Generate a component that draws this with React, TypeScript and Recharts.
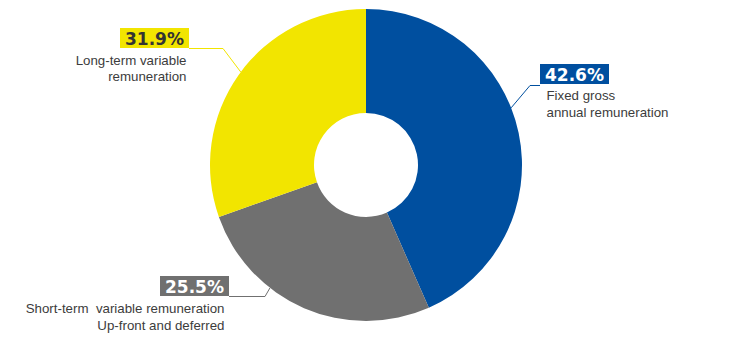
import { PieChart, Pie, Cell } from "recharts";

const categories = [
  "Fixed gross annual remuneration",
  "Short-term variable remuneration Up-front and deferred",
  "Long-term variable remuneration",
];
// slice sizes as drawn in the picture
const sliceSizes = [43.4, 26.2, 30.4];
// printed percentages
const pctLabels = ["42.6%", "25.5%", "31.9%"];
const labelText = [
  ["Fixed gross", "annual remuneration"],
  ["Short-term  variable remuneration", "Up-front and deferred"],
  ["Long-term variable", "remuneration"],
];
const colors = ["#004F9F", "#707070", "#F2E500"];
const pctColors = ["#FFFFFF", "#FFFFFF", "#333333"];

const data = categories.map((name, i) => ({ name, value: sliceSizes[i] }));

// label placement, relative to the pie centre
const layout = [
  { edge: 21.5, elbow: [164, -79.5], lineEnd: 174, box: [174, -101], textX: 180.5, anchor: "start", base: [-65, -48] },
  { edge: 232, elbow: [-101, 131.5], lineEnd: -137, box: [-206, 111], textX: -141.5, anchor: "end", base: [147.5, 164.5] },
  { edge: 143.4, elbow: [-143, -116.5], lineEnd: -177, box: [-246, -137], textX: -179.5, anchor: "end", base: [-100.5, -84.5] },
];

const RAD = Math.PI / 180;

const renderLabel = (props: any) => {
  const { cx, cy, outerRadius, index } = props;
  const l = layout[index];
  const sx = cx + outerRadius * Math.cos(-l.edge * RAD);
  const sy = cy + outerRadius * Math.sin(-l.edge * RAD);
  const ex = cx + l.elbow[0];
  const ey = cy + l.elbow[1];
  const bx = cx + l.box[0];
  const by = cy + l.box[1];
  return (
    <g key={`lbl-${index}`}>
      <polyline
        points={`${sx},${sy} ${ex},${ey} ${cx + l.lineEnd},${ey}`}
        fill="none"
        stroke={colors[index]}
        strokeWidth={1}
      />
      <rect x={bx} y={by} width={69} height={20} fill={colors[index]} />
      <text
        x={bx + 34.5}
        y={by + 16.5}
        textAnchor="middle"
        fill={pctColors[index]}
        style={{ fontFamily: "'DejaVu Sans'", fontWeight: "bold", fontSize: 17 }}
      >
        {pctLabels[index]}
      </text>
      {labelText[index].map((t, j) => (
        <text
          key={j}
          x={cx + l.textX}
          y={cy + l.base[j]}
          textAnchor={l.anchor as any}
          fill="#3c3c3c"
          style={{
            fontFamily: "'Liberation Sans', Arial, sans-serif",
            fontSize: 13.3,
            whiteSpace: "pre",
          }}
        >
          {t}
        </text>
      ))}
    </g>
  );
};

export default function App() {
  return (
    <div style={{ position: "absolute", left: 0, top: 0, background: "#fff" }}>
      <PieChart width={729} height={357} margin={{ top: 0, right: 0, bottom: 0, left: 0 }}>
        <Pie
          data={data}
          dataKey="value"
          nameKey="name"
          cx={366}
          cy={165}
          innerRadius={52}
          outerRadius={156}
          startAngle={90}
          endAngle={-270}
          stroke="none"
          label={renderLabel}
          labelLine={false}
          isAnimationActive={false}
        >
          {data.map((d, i) => (
            <Cell key={d.name} fill={colors[i]} />
          ))}
        </Pie>
      </PieChart>
    </div>
  );
}
